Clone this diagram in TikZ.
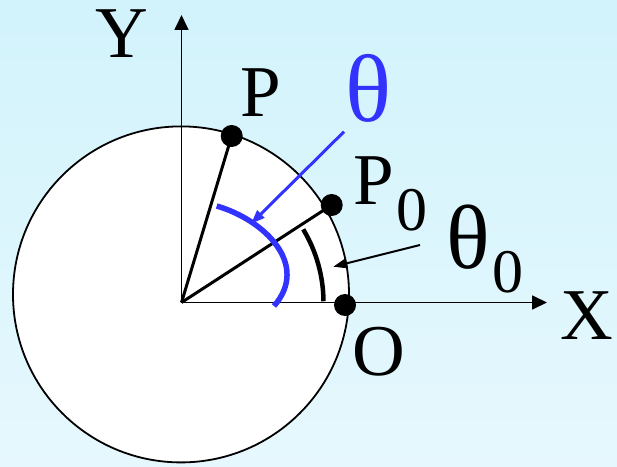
\documentclass[tikz,border=0pt]{standalone}
\usepackage{fontspec}
\setmainfont{Liberation Serif}
\usetikzlibrary{arrows.meta}
\definecolor{skytop}{HTML}{D2F3FC}
\definecolor{skybot}{HTML}{E6F8FD}
\definecolor{thblue}{HTML}{3333FF}
\tikzset{
  axis/.style={-{Triangle[length=15pt,width=14pt]},line width=1.7pt},
  spoke/.style={line width=3pt},
  dot/.style={circle,fill=black,inner sep=0pt,minimum size=22pt},
  lbl/.style={font=\fontsize{73}{80}\selectfont,inner sep=0pt},
  pointer/.style={-{Triangle[length=14pt,width=10pt]},line width=2pt},
}
\newcommand{\subz}[1]{{\fontsize{62}{62}\selectfont\raisebox{-#1}{0}}}

\begin{document}
\begin{tikzpicture}[x=1pt,y=1pt]
  \useasboundingbox(0,0)rectangle(617,466);
  \shade[top color=skytop,bottom color=skybot](0,0)rectangle(617,466);
  \draw[line width=1.8pt,fill=white](181,171.6)circle(168pt);
  \coordinate(org)at(181.5,163.5);
  \node[dot](p)at(231.7,330){};
  \node[dot](pz)at(331.7,261){};
  \node[dot](o)at(345,161){};
  \draw[spoke](org)--(p.center);
  \draw[spoke](org)--(pz.center);
  \coordinate(xend)at(547,163.5);
  \coordinate(yend)at(181.5,451);
  \draw[axis](org)--(xend);
  \draw[axis](org)--(yend);
  \draw[line width=4.5pt]([shift={(0.5:142pt)}]org)arc[start angle=0.5,end angle=31,radius=142pt];
  \draw[thblue,line width=5.5pt](216.7,260)..controls(265,246)and(310,201)..(274,160);
  \coordinate(thtail)at(344,334.3);
  \coordinate(thtip)at(251,242.2);
  \draw[pointer,thblue,line width=3pt](thtail)--(thtip);
  \coordinate(tzltail)at(420,221);
  \coordinate(tzltip)at(333.3,199.3);
  \draw[pointer](tzltail)--(tzltip);
  \node[lbl](ylbl)at(122,432){Y};
  \node[lbl](xlbl)at(586.7,150){X};
  \node[lbl](plbl)at(261,373.5){P};
  \node[lbl,anchor=base west](pzlbl)at(353,261){P\kern3pt\subz{25pt}};
  \node[lbl,anchor=base west,font=\fontsize{91}{96}\selectfont](tzlbl)at(446,198){θ\kern3pt\subz{24pt}};
  \node[lbl,thblue,font=\fontsize{96}{100}\selectfont](thlbl)at(368,378){θ};
  \node[lbl](olbl)at(379,114){O};
\end{tikzpicture}
\end{document}
